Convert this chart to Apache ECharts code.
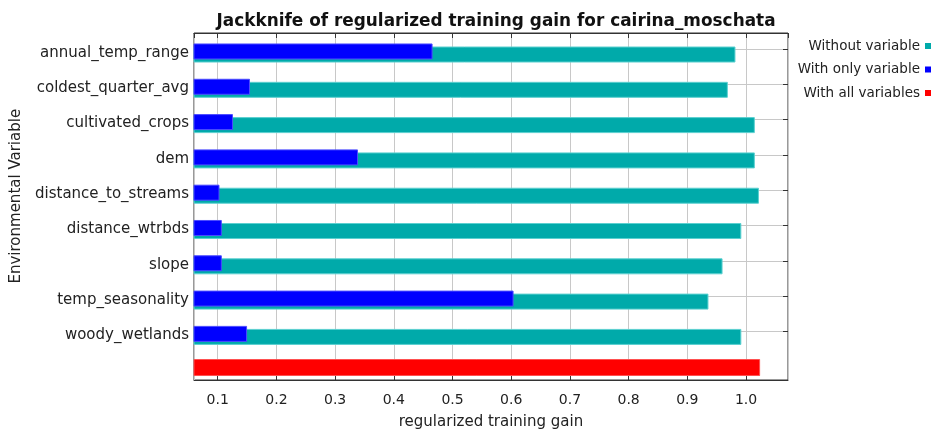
<!DOCTYPE html>
<html>
<head>
<meta charset="utf-8">
<title>Jackknife of regularized training gain</title>
<script src="https://cdn.jsdelivr.net/npm/echarts@6/dist/echarts.min.js"></script>
<style>
  html, body { margin: 0; padding: 0; background: #ffffff; }
  #chart { width: 941px; height: 435px; }
</style>
</head>
<body>
<div id="chart"></div>
<script>
// Environmental variables, top to bottom
const variables = [
  'annual_temp_range', 'coldest_quarter_avg', 'cultivated_crops', 'dem',
  'distance_to_streams', 'distance_wtrbds', 'slope', 'temp_seasonality', 'woody_wetlands'
];
// Regularized training gain of the model built without each variable
const withoutVariable = [0.982, 0.969, 1.015, 1.015, 1.022, 0.992, 0.960, 0.936, 0.992];
// Gain of the model built from each variable alone
const withOnlyVariable = [0.466, 0.155, 0.126, 0.339, 0.103, 0.107, 0.107, 0.604, 0.150];
// Gain of the model with all variables
const withAllVariables = [1.024];
// Gain axis range
const gainMin = 0.0596;
const gainMax = 1.0715;

const FONT = '"DejaVu Sans", Verdana, sans-serif';
const TEXT = '#222222';
const FRAME = '#333333';
const GRID_LINE = '#c8c8c8';

const plotLeft = 194, plotTop = 33, plotWidth = 594, plotHeight = 349;
const rowPitch = 35.3;
const rowsTop = 35.35;
const rowsHeight = rowPitch * variables.length;

const gainAxis = (gridIndex, extra) => Object.assign({
  type: 'value', gridIndex, min: gainMin, max: gainMax, splitNumber: 10,
  axisLine: { show: false }, axisTick: { show: false },
  axisLabel: { show: false }, splitLine: { show: false }
}, extra || {});

const chart = echarts.init(document.getElementById('chart'), null, { renderer: 'canvas' });

chart.setOption({
  animation: false,
  backgroundColor: '#ffffff',
  textStyle: { fontFamily: FONT, color: TEXT },
  title: {
    text: 'Jackknife of regularized training gain for cairina_moschata',
    left: 491, top: 8, textAlign: 'center',
    textStyle: { fontFamily: FONT, fontSize: 16.9, fontWeight: 'bold', color: '#111111' }
  },
  legend: {
    orient: 'vertical', align: 'right', right: 10, top: 39, padding: 0,
    itemWidth: 6, itemHeight: 6, itemGap: 9.5,
    icon: 'rect',
    itemStyle: { borderWidth: 0 },
    textStyle: { fontFamily: FONT, fontSize: 13.5, color: TEXT },
    data: ['Without variable', 'With only variable', 'With all variables']
  },
  grid: [
    // outer frame with the gain axes
    { left: plotLeft, top: plotTop, width: plotWidth, height: plotHeight,
      show: true, borderColor: FRAME, borderWidth: 1, backgroundColor: 'transparent', containLabel: false },
    // one row per variable
    { left: plotLeft, top: rowsTop, width: plotWidth, height: rowsHeight, containLabel: false },
    // row for the full model
    { left: plotLeft, top: rowsTop + rowsHeight, width: plotWidth,
      height: plotTop + plotHeight - rowsTop - rowsHeight, containLabel: false },
    // horizontal guide lines
    { left: plotLeft, top: 49, width: plotWidth, height: rowPitch * (variables.length - 1), containLabel: false }
  ],
  xAxis: [
    gainAxis(0, {
      position: 'bottom',
      axisLine: { show: true, lineStyle: { color: FRAME, width: 1 } },
      axisTick: { show: true, inside: true, length: 5, lineStyle: { color: FRAME } },
      axisLabel: {
        show: true, fontFamily: FONT, fontSize: 14, color: TEXT, margin: 13.5,
        showMinLabel: false, showMaxLabel: false,
        formatter: v => v.toFixed(1)
      },
      splitLine: { show: true, lineStyle: { color: GRID_LINE, width: 1 } },
      name: 'regularized training gain', nameLocation: 'middle', nameGap: 35,
      nameTextStyle: { fontFamily: FONT, fontSize: 15, color: TEXT }
    }),
    gainAxis(0, {
      position: 'top',
      axisLine: { show: true, lineStyle: { color: FRAME, width: 1 } },
      axisTick: { show: true, inside: true, length: 5, lineStyle: { color: FRAME } }
    }),
    gainAxis(1),
    gainAxis(2),
    gainAxis(3)
  ],
  yAxis: [
    { type: 'value', gridIndex: 0, show: false },
    {
      type: 'category', gridIndex: 1, inverse: true, data: variables,
      axisLine: { show: false }, axisTick: { show: false },
      axisLabel: { fontFamily: FONT, fontSize: 15, color: TEXT, margin: 5 },
      name: 'Environmental Variable', nameLocation: 'middle', nameGap: 170,
      nameTextStyle: { fontFamily: FONT, fontSize: 15, color: TEXT, padding: [0, 4, 0, 0] }
    },
    {
      type: 'category', gridIndex: 2, inverse: true, data: [''],
      axisLine: { show: false }, axisTick: { show: false }, axisLabel: { show: false }
    },
    {
      type: 'value', gridIndex: 3, position: 'right', inverse: true,
      min: 0, max: variables.length - 1, interval: 1,
      axisLine: { show: false }, axisLabel: { show: false },
      axisTick: { show: true, inside: true, length: 5, lineStyle: { color: FRAME } },
      splitLine: { show: true, lineStyle: { color: GRID_LINE, width: 1 } }
    }
  ],
  series: [
    {
      name: 'With only variable', type: 'bar', xAxisIndex: 2, yAxisIndex: 1,
      data: withOnlyVariable, barWidth: 16, barGap: '-81%', z: 4,
      itemStyle: { color: '#0000ff', borderColor: '#4b4bff', borderWidth: 1 }
    },
    {
      name: 'Without variable', type: 'bar', xAxisIndex: 2, yAxisIndex: 1,
      data: withoutVariable, barWidth: 16, barGap: '-81%', z: 3,
      itemStyle: { color: '#00aaaa', borderColor: '#5cd0d0', borderWidth: 1 }
    },
    {
      name: 'With all variables', type: 'bar', xAxisIndex: 3, yAxisIndex: 2,
      data: withAllVariables, barWidth: 17, z: 3,
      itemStyle: { color: '#ff0000', borderColor: '#ff5050', borderWidth: 1 }
    }
  ]
});
</script>
</body>
</html>
